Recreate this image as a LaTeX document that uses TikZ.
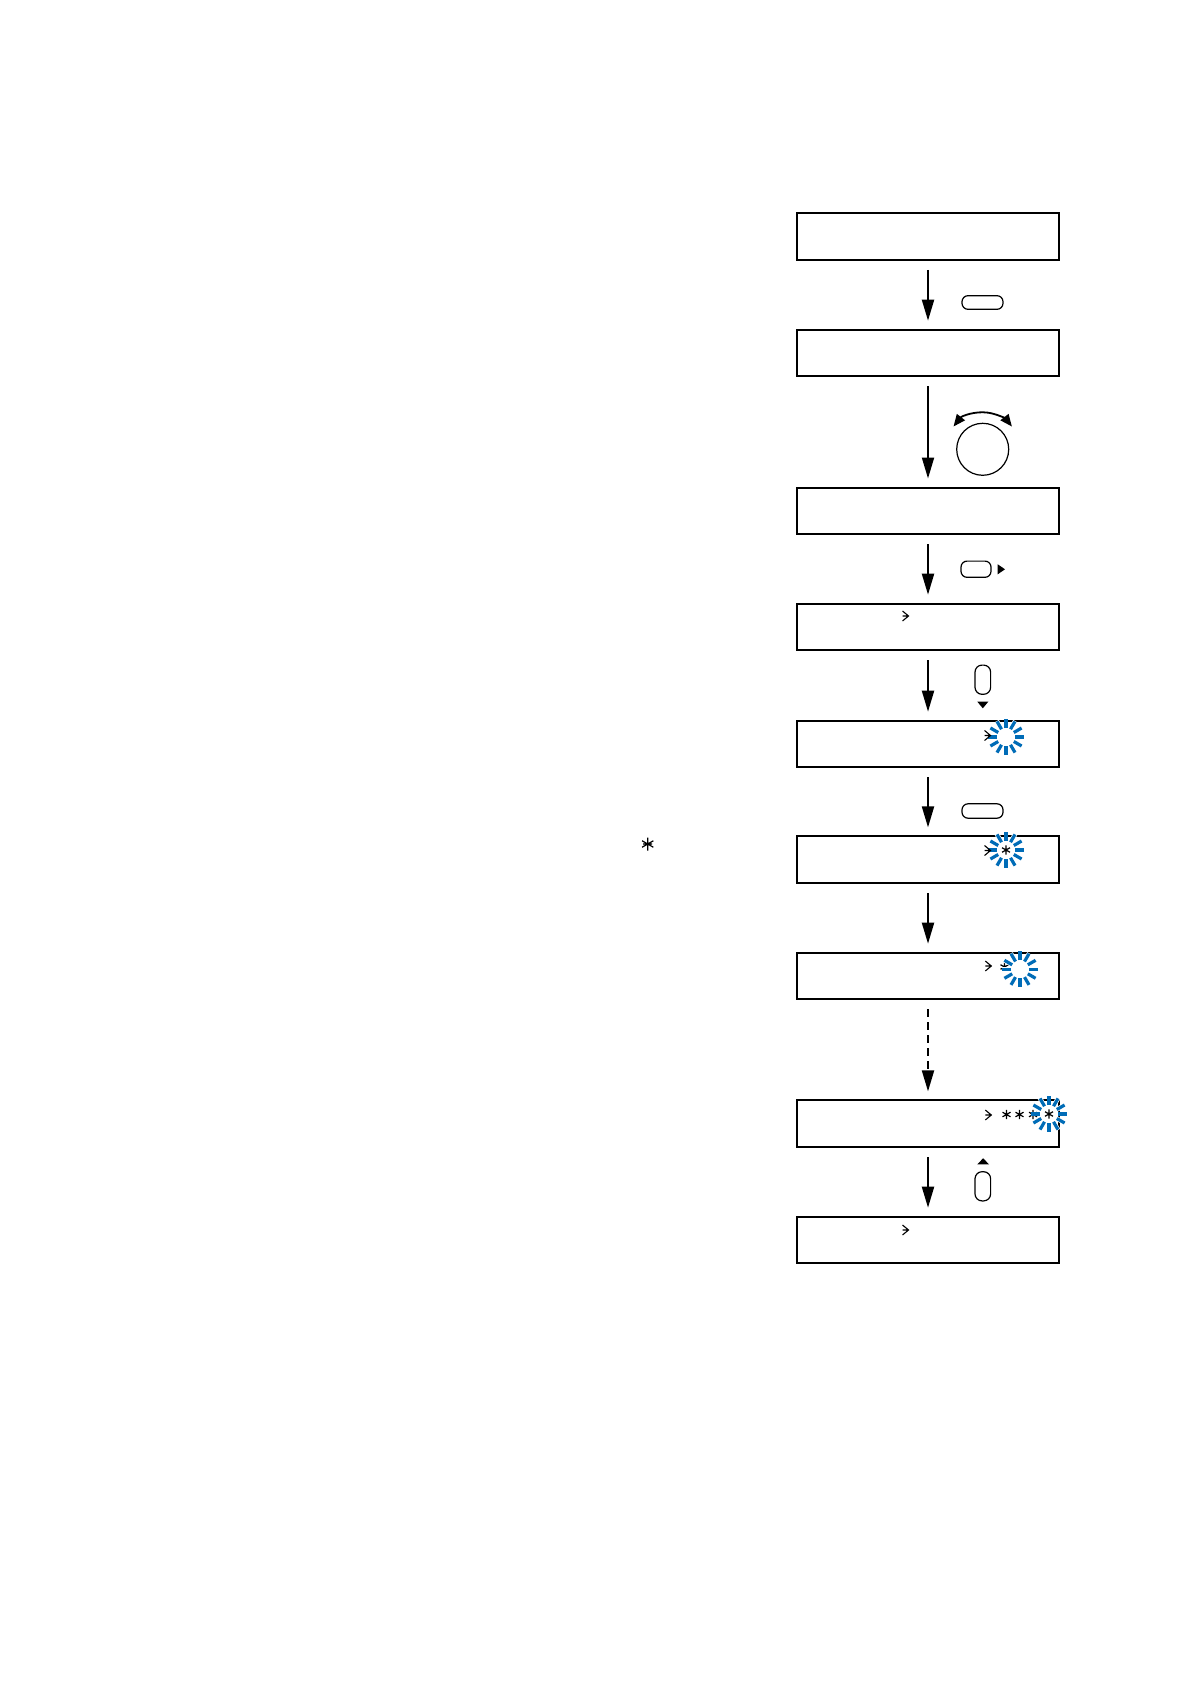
\documentclass[tikz,border=0pt]{standalone}
\usetikzlibrary{arrows.meta}
\definecolor{spinblue}{RGB}{0,108,183}
\begin{document}
\begin{tikzpicture}[x=0.5pt,y=-0.5pt,
  disp/.style={draw=black, line width=1pt, minimum width=131pt, minimum height=23.3pt, inner sep=0pt},
  flow/.style={-{Triangle[length=10.5pt,width=6pt]}, line width=1pt, shorten <=4.5pt, shorten >=4pt},
  keybtn/.style={draw, line width=0.6pt, rounded corners=3pt, inner sep=0pt},
  ptr/.style={line width=0.55pt},
  starline/.style={line width=0.6pt},
  spin/.style={spinblue, line width=1.6pt},
  halo/.style={white, line width=2.3pt},
  pointer/.pic={\draw[ptr] (-3,-5) -- (3,0) -- (-3,5) (-3,0) -- (3,0);},
  aster/.pic={\draw[starline] (90:4.6) -- (270:4.6) (30:4.6) -- (210:4.6) (150:4.6) -- (330:4.6);},
  bigaster/.pic={\draw[starline] (90:6.5) -- (270:6.5) (30:6.5) -- (210:6.5) (150:6.5) -- (330:6.5) (0:4.5) -- (180:4.5);},
  spinner/.pic={
    \foreach \a in {0,30,...,330} \draw[halo] (\a:8.6) -- (\a:18.4);
    \foreach \a in {0,30,...,330} \draw[spin] (\a:9) -- (\a:18);}
]
\useasboundingbox[fill=white] (0,0) rectangle (1191,1684);

% display boxes
\node[disp] (b1) at (928,236.7) {};
\node[disp] (b2) at (928,353) {};
\node[disp] (b3) at (928,510.8) {};
\node[disp] (b4) at (928,627) {};
\node[disp] (b5) at (928,744) {};
\node[disp] (b6) at (928,859.7) {};
\node[disp] (b7) at (928,976) {};
\node[disp] (b8) at (928,1123.7) {};
\node[disp] (b9) at (928,1240) {};

% flow arrows
\draw[flow] (b1) -- (b2);
\draw[flow] (b2) -- (b3);
\draw[flow] (b3) -- (b4);
\draw[flow] (b4) -- (b5);
\draw[flow] (b5) -- (b6);
\draw[flow] (b6) -- (b7);
\draw[flow, dash pattern=on 4pt off 2.5pt] (b7) -- (b8);
\draw[flow] (b8) -- (b9);

% keys and dial
\node[keybtn, minimum width=20.5pt, minimum height=6.8pt] (k1) at (982.5,302.5) {};
\node[circle, draw, line width=0.6pt, minimum size=26pt, inner sep=0pt] (dial) at (982.7,449.3) {};
\draw[{Triangle[length=6pt,width=5pt]}-{Triangle[length=6pt,width=5pt]}, line width=0.9pt]
  (dial.center) ++(-142:37) arc[start angle=-142, end angle=-38, radius=37];
\node[keybtn, minimum width=15pt, minimum height=8.1pt] (k3) at (976,569.2) {};
\fill (997.7,564.3) -- (1005,569.3) -- (997.7,574.3) -- cycle;
\node[keybtn, rounded corners=3.5pt, minimum width=7.8pt, minimum height=14.6pt] (k4) at (982.8,679.7) {};
\fill (977.3,701.7) -- (988.3,701.7) -- (982.8,708.3) -- cycle;
\node[keybtn, minimum width=20.5pt, minimum height=7.2pt] (k5) at (982.5,811) {};
\fill (977.3,1164.3) -- (989,1164.3) -- (983.1,1158.3) -- cycle;
\node[keybtn, rounded corners=3.5pt, minimum width=7.8pt, minimum height=14.6pt] (k8) at (982.8,1186.3) {};

% display contents
\pic at (905.5,616) {pointer};
\pic at (1006,737) {spinner};
\pic at (987.5,735.5) {pointer};
\pic at (1006,850) {aster};
\pic at (1006,850) {spinner};
\pic at (987.5,850.5) {pointer};
\pic at (988.3,966) {pointer};
\pic at (1004.5,967) {aster};
\pic at (1020,969.3) {spinner};
\pic at (988.3,1115) {pointer};
\pic at (1006.5,1114.5) {aster};
\pic at (1019.5,1114.5) {aster};
\pic at (1033,1114.5) {aster};
\pic at (1049,1114) {spinner};
\pic at (1049,1114) {aster};
\pic at (905.5,1230) {pointer};

% lone asterisk
\pic at (647.7,844) {bigaster};
\end{tikzpicture}
\end{document}
